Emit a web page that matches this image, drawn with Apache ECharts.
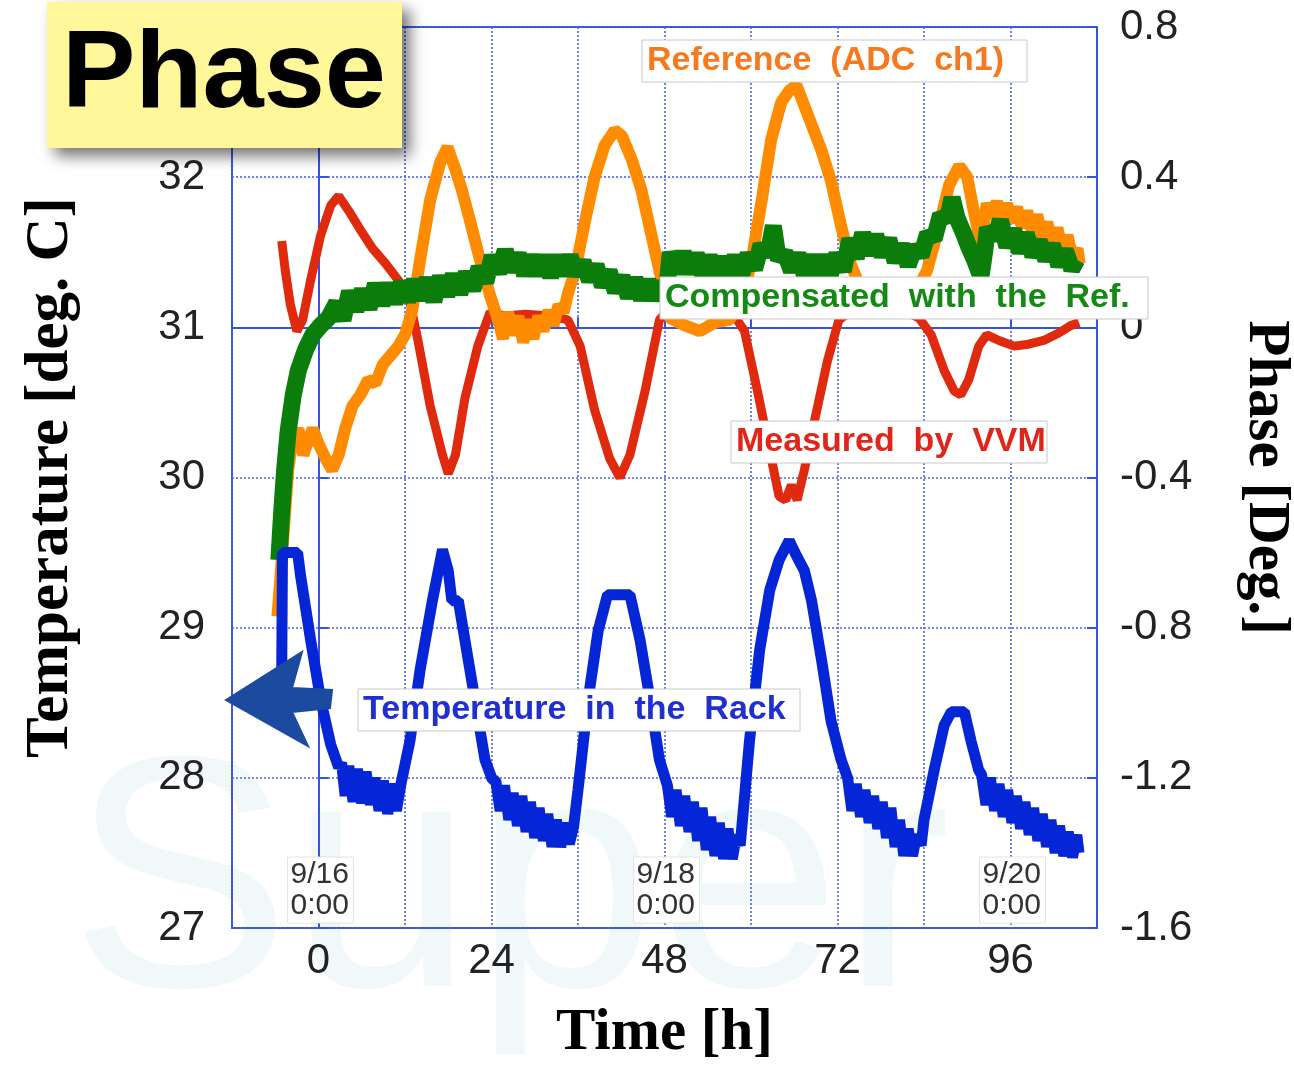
<!DOCTYPE html>
<html><head><meta charset="utf-8">
<script src="https://cdn.jsdelivr.net/npm/echarts/dist/echarts.min.js"></script>
<style>html,body{margin:0;padding:0;background:#fff}#c{width:1294px;height:1068px}</style>
</head><body><div id="c"></div>
<script>
// ---- data (hours, value) ----
const xTickLabels = [0, 24, 48, 72, 96];
const dateLabels = [['9/16\n0:00', 0], ['9/18\n0:00', 48], ['9/20\n0:00', 96]];

// Temperature in the Rack [deg C] (left axis)
const rackTemp = [[-5.1,28.72],[-5.0,29.50],[-2.9,29.50],[-2.5,29.35],[-1.1,28.92],[0.3,28.52],[1.7,28.22],[2.8,28.07],
[3.2,28.1],[3.7,27.88],[4.2,28.08],[4.8,27.84],[5.4,28.06],[6.0,27.83],[6.6,28.04],[7.2,27.82],[7.8,28.0],[8.4,27.78],[9.0,27.98],[9.6,27.76],[10.2,27.96],[10.8,27.78],[11.4,27.95],
[12.7,28.25],[14.1,28.72],[15.8,29.18],[17.2,29.52],[18.0,29.38],[18.5,29.18],[19.4,29.18],[20.3,28.92],[21.7,28.52],[23.1,28.12],[24.1,27.99],
[24.6,27.98],[25.2,27.78],[25.8,27.95],[26.4,27.72],[27.0,27.9],[27.6,27.68],[28.2,27.88],[28.8,27.64],[29.4,27.84],[30.0,27.6],[30.6,27.8],[31.2,27.58],[31.8,27.76],[32.4,27.54],[33.0,27.72],[33.6,27.54],[34.2,27.7],[34.8,27.56],[35.4,27.68],
[36.0,27.92],[37.4,28.52],[38.8,28.98],[40.1,29.22],[43.2,29.22],[44.6,28.92],[46.0,28.52],[47.3,28.12],
[48.4,27.95],[49.0,27.74],[49.6,27.92],[50.2,27.68],[50.8,27.88],[51.4,27.64],[52.0,27.84],[52.6,27.58],[53.2,27.8],[53.8,27.52],[54.4,27.74],[55.0,27.48],[55.6,27.7],[56.2,27.46],[56.8,27.66],[57.4,27.46],[58.0,27.62],[58.5,27.55],
[59.8,28.25],[61.2,28.85],[62.6,29.25],[63.9,29.45],[65.3,29.58],[66.3,29.48],[67.4,29.38],[68.4,29.18],[69.8,28.78],[71.1,28.38],[72.5,28.12],
[73.4,28.0],[74.0,27.78],[74.6,27.96],[75.2,27.74],[75.8,27.92],[76.4,27.7],[77.0,27.88],[77.6,27.66],[78.2,27.84],[78.8,27.6],[79.4,27.8],[80.0,27.54],[80.6,27.72],[81.2,27.48],[81.8,27.66],[82.4,27.48],[83.0,27.62],[83.6,27.55],[84.0,27.72],
[85.4,28.05],[86.8,28.35],[87.8,28.44],[89.6,28.44],[90.5,28.25],[91.6,28.05],
[92.0,28.02],[92.6,27.82],[93.2,28.0],[93.8,27.78],[94.4,27.96],[95.0,27.74],[95.6,27.92],[96.2,27.7],[96.8,27.88],[97.4,27.66],[98.0,27.84],[98.6,27.62],[99.2,27.8],[99.8,27.58],[100.4,27.76],[101.0,27.54],[101.6,27.72],[102.2,27.5],[102.8,27.68],[103.4,27.48],[104.0,27.64],[104.6,27.47],[105.2,27.62],[105.5,27.5]];

// Measured by VVM [deg] (right axis)
const vvmPhase = [[-5.1,0.23],[-4.6,0.15],[-3.9,0.06],[-3.0,-0.01],[-2.2,0.02],[-1.1,0.125],[0.3,0.245],[1.7,0.325],[2.8,0.35],[4.2,0.31],[5.8,0.26],[7.5,0.21],[9.3,0.17],[11.1,0.125],[12.5,0.085],[13.8,-0.035],[15.5,-0.21],[17.2,-0.34],[18.0,-0.39],[19.0,-0.34],[20.3,-0.19],[22.1,-0.05],[23.8,0.04],[25.9,0.03],[28.7,0.035],[32.1,0.03],[34.6,0.02],[36.3,-0.05],[38.3,-0.22],[40.4,-0.35],[41.8,-0.40],[43.2,-0.34],[45.3,-0.17],[47.3,0.02],[48.7,0.05],[52.9,0.06],[57.0,0.05],[59.1,-0.01],[60.9,-0.17],[62.6,-0.33],[63.9,-0.45],[64.8,-0.46],[65.6,-0.42],[66.4,-0.46],[67.4,-0.38],[68.8,-0.25],[70.6,-0.09],[72.2,0.02],[74.3,0.05],[77.8,0.06],[81.2,0.045],[83.3,0.025],[85.0,-0.02],[86.8,-0.115],[88.2,-0.17],[89.1,-0.18],[90.2,-0.14],[91.6,-0.05],[92.7,-0.02],[94.4,-0.035],[96.5,-0.05],[98.5,-0.045],[100.6,-0.035],[102.7,-0.015],[104.4,0.005],[105.5,0.013]];

// Reference (ADC ch1) [deg] (right axis)
const refPhase = [[-5.7,-0.77],[-5.3,-0.67],[-4.7,-0.51],[-4.2,-0.38],[-3.6,-0.30],[-2.8,-0.27],[-2.1,-0.34],[-1.4,-0.30],[-0.8,-0.27],[0,-0.31],[1.0,-0.35],[1.9,-0.38],[2.8,-0.34],[3.7,-0.27],[4.7,-0.21],[5.8,-0.18],[6.9,-0.14],[7.9,-0.15],[8.9,-0.10],[10.0,-0.075],[11.1,-0.05],[12.0,-0.02],[13.0,0.045],[14.1,0.18],[15.5,0.34],[16.9,0.44],[17.9,0.48],[19.0,0.42],[19.9,0.365],[21.0,0.285],[22.4,0.18],[23.8,0.085],
[24.9,0.02],[25.6,-0.03],[26.3,0.04],[27.0,-0.02],[27.7,0.03],[28.4,-0.04],[29.1,0.02],[29.8,-0.03],[30.5,0.03],[31.2,-0.01],[31.9,0.045],[32.6,0.005],[33.3,0.06],[34.0,0.04],[34.6,0.09],
[35.6,0.15],[37.0,0.285],[38.3,0.40],[39.7,0.485],[41.1,0.525],[42.1,0.51],[43.5,0.445],[44.8,0.365],[46.2,0.245],[47.6,0.125],[48.7,0.025],[50.8,0.005],[52.9,-0.01],[55.0,0.013],[57.0,0.02],[58.7,0.07],[60.1,0.18],[61.5,0.34],[62.8,0.50],[64.2,0.60],[65.3,0.63],[66.3,0.645],[67.1,0.605],[68.4,0.54],[69.8,0.47],[71.1,0.39],[72.5,0.27],[73.9,0.165],[75.3,0.10],[77.8,0.07],[80.6,0.07],[82.6,0.085],[84.4,0.15],[86.1,0.27],[87.5,0.38],[88.9,0.43],[90.0,0.40],[90.9,0.31],[91.9,0.22],
[92.7,0.33],[93.4,0.29],[94.1,0.335],[94.8,0.285],[95.5,0.33],[96.2,0.28],[96.9,0.32],[97.6,0.265],[98.3,0.31],[99.0,0.255],[99.7,0.3],[100.4,0.24],[101.1,0.28],[101.8,0.22],[102.5,0.265],[103.2,0.205],[103.9,0.245],[104.6,0.185],[105.3,0.21],[105.6,0.17]];

// Compensated with the Ref. [deg] (right axis)
const compPhase = [[-5.5,-0.62],[-5.1,-0.49],[-4.7,-0.38],[-4.2,-0.275],[-3.5,-0.18],[-2.8,-0.115],[-1.8,-0.06],[-0.8,-0.02],[0.3,0.005],[1.4,0.025],
[2.5,0.065],[3.4,0.02],[4.3,0.095],[5.2,0.045],[6.1,0.1],[7.0,0.05],[7.9,0.115],[8.8,0.06],[9.7,0.115],[10.6,0.065],[11.5,0.12],[12.4,0.07],[13.3,0.125],[14.2,0.075],[15.1,0.13],[16.0,0.07],[16.9,0.135],[17.8,0.085],[18.7,0.14],[19.6,0.09],[20.5,0.145],[21.4,0.1],[22.3,0.16],[23.2,0.12],[24.1,0.19],[25.0,0.145],[25.9,0.205],[26.8,0.15],[27.7,0.195],[28.6,0.14],[29.5,0.19],[30.4,0.14],[31.3,0.19],[32.2,0.135],[33.1,0.19],[34.0,0.14],[34.9,0.19],[35.8,0.14],[36.7,0.175],[37.6,0.125],[38.5,0.165],[39.4,0.11],[40.3,0.15],[41.2,0.095],[42.1,0.135],[43.0,0.08],[43.9,0.13],[44.8,0.075],[45.7,0.125],[46.6,0.075],[47.5,0.12],[48.2,0.08],
[48.8,0.2],[49.7,0.145],[50.6,0.2],[51.5,0.145],[52.4,0.195],[53.3,0.14],[54.2,0.19],[55.1,0.135],[56.0,0.185],[56.9,0.135],[57.8,0.19],[58.7,0.14],[59.6,0.195],[60.5,0.155],[61.4,0.22],[62.3,0.19],[63.1,0.27],[63.8,0.18],[64.7,0.2],[65.6,0.15],[66.5,0.195],[67.4,0.14],[68.3,0.19],[69.2,0.14],[70.1,0.19],[71.0,0.14],[71.9,0.195],[72.8,0.15],[73.7,0.235],[74.6,0.185],[75.5,0.25],[76.4,0.195],[77.3,0.245],[78.2,0.19],[79.1,0.235],[80.0,0.175],[80.9,0.22],[81.8,0.165],[82.7,0.215],[83.6,0.19],[84.5,0.25],[85.4,0.235],[86.3,0.3],[87.2,0.285],[87.9,0.345],[88.6,0.29],[89.4,0.255],[90.2,0.215],[91.0,0.18],[91.9,0.135],[92.4,0.2],[92.8,0.265],[93.7,0.235],[94.6,0.285],[95.5,0.215],[96.4,0.26],[97.3,0.2],[98.2,0.25],[99.1,0.19],[100.0,0.23],[100.9,0.18],[101.8,0.22],[102.7,0.165],[103.6,0.205],[104.5,0.155],[105.2,0.18]];

const BLUE_AX = '#3552e3';
const GRID_C = '#4d63e8';
const chart = echarts.init(document.getElementById('c'), null, {renderer: 'canvas'});

function annot(x, y, w, h, text, color) {
  return [
    {type: 'rect', z: 100, shape: {x: x, y: y, width: w, height: h},
     style: {fill: '#ffffff', stroke: '#c8c8c8', lineWidth: 1}},
    {type: 'text', z: 101, style: {x: x + 5, y: y + h / 2, text: text, fill: color,
      font: 'bold 34px "Liberation Sans", Arial, sans-serif', textVerticalAlign: 'middle'}}
  ];
}
const serifName = {fontFamily: '"Liberation Serif", "Times New Roman", serif', fontWeight: 'bold', fontSize: 59, color: '#000'};
const tickFont = {fontSize: 42, color: '#222', fontFamily: '"Liberation Sans", Arial, sans-serif'};

const option = {
  backgroundColor: '#ffffff',
  animation: false,
  grid: {left: 232, right: 197, top: 27, bottom: 140, show: true, borderColor: BLUE_AX, borderWidth: 2, outerBoundsMode: 'none'},
  xAxis: {
    type: 'value', min: -12, max: 108, interval: 12,
    name: 'Time [h]', nameLocation: 'middle', nameGap: 76, nameTextStyle: serifName,
    axisLine: {lineStyle: {color: BLUE_AX, width: 2}},
    axisTick: {inside: true, length: 10, lineStyle: {color: BLUE_AX, width: 2}},
    axisLabel: Object.assign({margin: 12, formatter: v => xTickLabels.indexOf(v) >= 0 ? String(v) : ''}, tickFont),
    splitLine: {show: true, lineStyle: {color: GRID_C, type: [2, 2], width: 1.6}}
  },
  yAxis: [{
    type: 'value', min: 27, max: 33, interval: 1, position: 'left',
    name: 'Temperature [deg. C]', nameLocation: 'middle', nameGap: 150, nameRotate: 90,
    nameTextStyle: Object.assign({}, serifName, {fontSize: 61}),
    axisLine: {show: true, lineStyle: {color: BLUE_AX, width: 2}},
    axisTick: {show: true, inside: true, length: 10, lineStyle: {color: BLUE_AX, width: 2}},
    axisLabel: Object.assign({margin: 27}, tickFont),
    splitLine: {show: true, lineStyle: {color: GRID_C, type: [2, 2], width: 1.6}}
  }, {
    type: 'value', min: -1.6, max: 0.8, interval: 0.4, position: 'right',
    name: 'Phase [Deg.]', nameLocation: 'middle', nameGap: 139, nameRotate: -90, nameTextStyle: serifName,
    axisLine: {show: true, lineStyle: {color: BLUE_AX, width: 2}},
    axisTick: {show: true, inside: true, length: 10, lineStyle: {color: BLUE_AX, width: 2}},
    axisLabel: Object.assign({margin: 23, formatter: v => String(Math.round(v * 10) / 10)}, tickFont),
    splitLine: {show: false}
  }],
  series: [
    {name: 'Measured by VVM', type: 'line', yAxisIndex: 1, data: vvmPhase, showSymbol: false, z: 2,
     lineStyle: {color: '#e02a0e', width: 9}, itemStyle: {color: '#e02a0e'}},
    {name: 'Reference (ADC ch1)', type: 'line', yAxisIndex: 1, data: refPhase, showSymbol: false, z: 3,
     lineStyle: {color: '#ff8c00', width: 12}, itemStyle: {color: '#ff8c00'}},
    {name: 'Compensated with the Ref.', type: 'line', yAxisIndex: 1, data: compPhase, showSymbol: false, z: 4,
     lineStyle: {color: '#0a7d0a', width: 17}, itemStyle: {color: '#0a7d0a'}},
    {name: 'Temperature in the Rack', type: 'line', yAxisIndex: 0, data: rackTemp, showSymbol: false, z: 5,
     lineStyle: {color: '#0526d6', width: 11}, itemStyle: {color: '#0526d6'}}
  ]
};

chart.setOption(option);

const g = [];
// faint watermark
g.push({type: 'text', z: -1, silent: true, style: {x: 70, y: 1060, text: 'Super', fill: '#f1f8fa',
  font: '330px "Liberation Sans", Arial, sans-serif', textVerticalAlign: 'bottom'}});
// title box
g.push({type: 'rect', z: 110, shape: {x: 47, y: 2, width: 355, height: 146},
  style: {fill: '#fff799', shadowBlur: 14, shadowOffsetX: 8, shadowOffsetY: 8, shadowColor: 'rgba(0,0,0,0.55)'}});
g.push({type: 'text', z: 111, style: {x: 224, y: 77, text: 'Phase', fill: '#000',
  font: 'bold 110px "Liberation Sans", Arial, sans-serif', textAlign: 'center', textVerticalAlign: 'middle'}});
// series labels
g.push(...annot(642, 40, 385, 42, 'Reference  (ADC  ch1)', '#f57a1f'));
g.push(...annot(660, 277, 488, 42, 'Compensated  with  the  Ref.', '#148a14'));
g.push(...annot(731, 421, 316, 42, 'Measured  by  VVM', '#e0261b'));
g.push(...annot(358, 689, 442, 42, 'Temperature  in  the  Rack', '#2030d0'));
// date labels at their time positions
dateLabels.forEach(([t, h]) => {
  const px = chart.convertToPixel({xAxisIndex: 0}, h);
  g.push({type: 'rect', z: 100, shape: {x: px - 31, y: 857, width: 66, height: 66},
    style: {fill: '#ffffff', stroke: '#e4e4e4', lineWidth: 1}});
  g.push({type: 'text', z: 101, style: {x: px - 28, y: 859, text: t, fill: '#333',
    font: '30px "Liberation Sans", Arial, sans-serif', lineHeight: 31, textVerticalAlign: 'top'}});
});
// hand-drawn style arrow pointing to the left axis
g.push({type: 'polygon', z: 102, shape: {points: [[226, 700], [302, 652], [292, 688], [332, 690], [330, 708], [292, 712], [308, 746]]},
  style: {fill: '#1b4a9e', stroke: '#1b4a9e', lineWidth: 2}});
chart.setOption({graphic: g});
</script></body></html>
